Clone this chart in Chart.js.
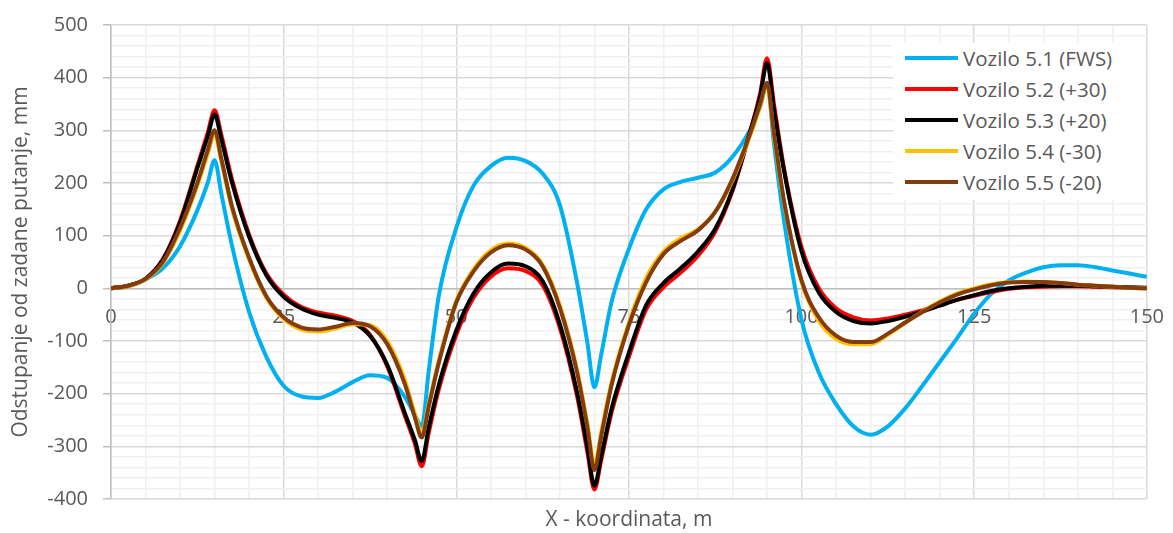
<!DOCTYPE html>
<html>
<head>
<meta charset="utf-8">
<script src="https://cdn.jsdelivr.net/npm/chart.js@4.4.1/dist/chart.umd.min.js"></script>
<style>
  html, body { margin: 0; padding: 0; background: #ffffff; }
  #wrap { position: relative; width: 1173px; height: 533px; }
  #legend { position: absolute; left: 893px; top: 43px; width: 253px; height: 157px; background: #ffffff;
            font-family: 'Open Sans', sans-serif; font-size: 20.5px; color: #595959; }
  .item { position: absolute; left: 0; height: 30px; width: 253px; }
  .swatch { position: absolute; left: 12px; top: 13px; width: 53px; height: 4px; }
  .label { position: absolute; left: 70px; top: 0; line-height: 30px; white-space: nowrap; }
</style>
</head>
<body>
<div id="wrap">
  <canvas id="c" width="1173" height="533"></canvas>
  <div id="legend"></div>
</div>
<script>
// ---- data ----
const xs = [0,2.5,5,7.5,10,12.5,14,15,16,17.5,20,22.5,25,27.5,30,32.5,35,37.5,40,42.5,44,45,46,47.5,50,52.5,55,57.5,60,62.5,65,67.5,69,70,71,72.5,75,77.5,80,82.5,85,87.5,90,92.5,94,95,96,97.5,100,102.5,105,107.5,110,112.5,115,117.5,120,122.5,125,127.5,130,132.5,135,137.5,140,142.5,145,147.5,150];

const vozilo51 = [0,4,17,38,80,148,200,243,178,82,-45,-130,-185,-205,-208,-196,-178,-165,-170,-205,-240,-262,-158,-12,115,195,232,248,242,218,158,10,-105,-188,-125,-25,75,150,188,202,210,220,250,300,345,390,275,125,-60,-160,-220,-262,-278,-262,-228,-185,-140,-95,-48,-10,15,30,40,44,44,40,34,28,22];
const vozilo52 = [0,5,18,55,128,232,295,338,290,208,102,28,-12,-35,-46,-52,-62,-88,-148,-240,-295,-338,-275,-190,-88,-18,22,38,33,6,-75,-205,-312,-382,-325,-235,-130,-40,2,30,62,108,185,295,370,437,350,225,78,0,-38,-55,-61,-57,-50,-42,-32,-22,-14,-7,-1,2,3,4,4,3,2,1,0];
const vozilo53 = [0,5,18,54,125,228,288,330,282,202,98,25,-16,-38,-50,-56,-65,-90,-145,-235,-288,-328,-265,-182,-80,-10,30,47,42,14,-68,-198,-303,-375,-318,-228,-122,-32,10,38,70,113,188,295,365,428,340,220,70,-8,-45,-62,-67,-62,-54,-44,-33,-22,-13,-5,0,3,5,5,5,4,3,2,1];
const vozilo54 = [0,4,17,48,110,195,255,292,240,152,55,-18,-58,-78,-82,-76,-68,-70,-100,-172,-238,-275,-220,-135,-24,36,72,85,77,45,-33,-155,-258,-335,-272,-178,-65,20,70,95,112,145,205,288,345,385,290,160,12,-62,-96,-106,-106,-88,-66,-44,-25,-10,0,8,12,13,12,10,7,5,3,1,0];
const vozilo55 = [0,5,18,50,115,200,262,300,245,157,58,-15,-55,-74,-78,-73,-66,-72,-106,-180,-245,-283,-225,-140,-27,32,68,82,74,42,-37,-160,-265,-345,-280,-183,-70,12,65,90,110,145,208,292,350,390,295,163,15,-55,-90,-102,-102,-86,-65,-45,-27,-12,-2,6,11,12,12,10,7,5,3,1,0];

const seriesNames = ['Vozilo 5.1 (FWS)','Vozilo 5.2 (+30)','Vozilo 5.3 (+20)','Vozilo 5.4 (-30)','Vozilo 5.5 (-20)'];
const seriesColors = ['#00B0F0','#FF0000','#000000','#FFC000','#843C0C'];
const seriesValues = [vozilo51, vozilo52, vozilo53, vozilo54, vozilo55];

const majorX = [0,25,50,75,100,125,150];
const majorY = [-400,-300,-200,-100,0,100,200,300,400,500];
const xTitle = 'X - koordinata, m';
const yTitle = 'Odstupanje od zadane putanje, mm';

// ---- chart ----
const minorXTicks = []; for (let v = 0; v <= 150; v += 5) minorXTicks.push(v);
const minorYTicks = []; for (let v = -400; v <= 500; v += 20) minorYTicks.push(v);

Chart.defaults.font.family = "'Open Sans', sans-serif";
Chart.defaults.color = '#595959';

const datasets = seriesValues.map((vals, i) => ({
  label: seriesNames[i],
  data: xs.map((x, k) => ({x: x, y: vals[k]})),
  borderColor: seriesColors[i],
  backgroundColor: seriesColors[i],
  borderWidth: 4,
  pointRadius: 0,
  cubicInterpolationMode: 'monotone',
  fill: false,
  order: seriesValues.length - i
}));

const gridColor = (isMajor) => isMajor ? '#d9d9d9' : '#f0f0f0';

new Chart(document.getElementById('c'), {
  type: 'line',
  data: { datasets },
  options: {
    responsive: false,
    animation: false,
    devicePixelRatio: 1,
    layout: { padding: { left: 0, top: 12, right: 25, bottom: 0 } },
    plugins: { legend: { display: false }, tooltip: { enabled: false } },
    scales: {
      x: {
        type: 'linear',
        position: { y: 0 },
        min: 0, max: 150,
        afterBuildTicks: (s) => { s.ticks = minorXTicks.map(v => ({value: v})); },
        ticks: {
          autoSkip: false, maxRotation: 0, padding: 9,
          font: { size: 20 },
          callback: (v) => majorX.includes(v) ? String(v) : ''
        },
        grid: {
          color: (ctx) => gridColor(majorX.includes(ctx.tick && ctx.tick.value)),
          lineWidth: 1.5,
          tickLength: 8,
          tickColor: 'rgba(0,0,0,0)'
        },
        border: { display: true, color: '#bfbfbf', width: 1.5 }
      },
      xb: {
        type: 'linear',
        position: 'bottom',
        axis: 'x',
        min: 0, max: 150,
        ticks: { display: false },
        grid: { display: false },
        border: { display: false },
        title: { display: true, text: xTitle, font: { size: 21 }, color: '#595959', padding: 0 },
        afterFit: (s) => { s.height = 34; }
      },
      y: {
        type: 'linear',
        min: -400, max: 500,
        afterBuildTicks: (s) => { s.ticks = minorYTicks.map(v => ({value: v})); },
        afterFit: (s) => { s.width = 111; },
        ticks: {
          autoSkip: false, padding: 15,
          font: { size: 20, lineHeight: 1 },
          callback: (v) => majorY.includes(v) ? String(v) : ''
        },
        grid: {
          color: (ctx) => gridColor(majorY.includes(ctx.tick && ctx.tick.value)),
          lineWidth: 1.5,
          tickLength: 8,
          tickColor: (ctx) => majorY.includes(ctx.tick && ctx.tick.value) ? '#bfbfbf' : 'rgba(0,0,0,0)'
        },
        border: { display: true, color: '#bfbfbf', width: 1.5 },
        title: { display: true, text: yTitle, font: { size: 21 }, color: '#595959', padding: { top: 8, bottom: 0 } }
      }
    }
  }
});

// ---- legend (HTML, built from the same arrays) ----
const lg = document.getElementById('legend');
const rowTops = [0, 31, 62, 93, 124];
seriesNames.forEach((name, i) => {
  const it = document.createElement('div');
  it.className = 'item';
  it.style.top = rowTops[i] + 'px';
  const sw = document.createElement('div');
  sw.className = 'swatch';
  sw.style.background = seriesColors[i];
  const lb = document.createElement('div');
  lb.className = 'label';
  lb.textContent = name;
  it.appendChild(sw); it.appendChild(lb);
  lg.appendChild(it);
});
</script>
</body>
</html>
